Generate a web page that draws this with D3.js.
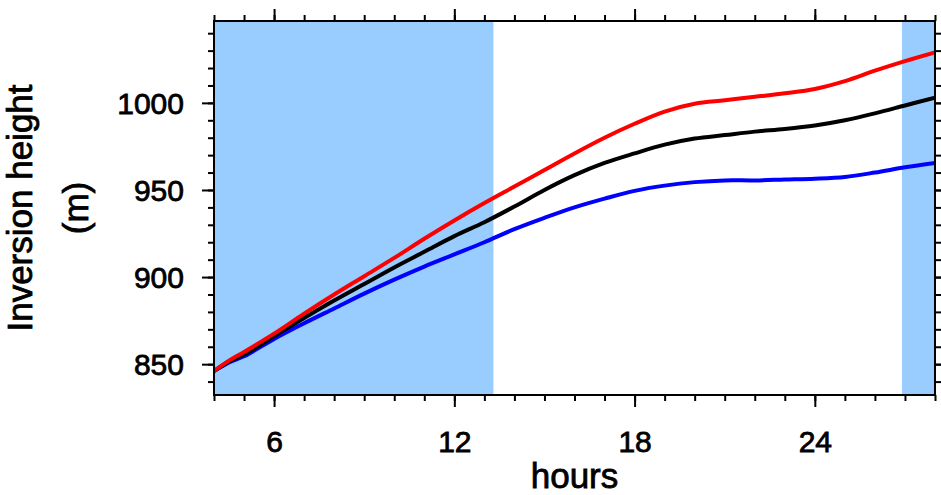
<!DOCTYPE html>
<html lang="en">
<head>
    <meta charset="UTF-8">
    <title>Inversion height</title>
    <script src="https://d3js.org/d3.v7.min.js"></script>
    <style>
        body {
            margin: 0;
            overflow: hidden;
            background: #fff;
        }
        svg {
            position: absolute;
            top: 0;
            left: 0;
        }
        text {
            font-family: "Liberation Sans", Helvetica, Arial, sans-serif;
            fill: #000;
            stroke: #000;
            stroke-width: 0.8px;
        }
    </style>
</head>
<body>
    <script>
        // Data
        const hours = [4, 4.5, 5, 6, 7, 8, 9, 10, 11, 12, 13, 14, 15, 16, 17, 18, 19, 20, 21, 22, 23, 24, 25, 26, 27, 28];
        const redValues = [846, 852, 857, 867.5, 879, 890, 900.5, 911, 922, 932.5, 942.5, 952, 961.5, 971, 980, 988, 995, 999.5, 1001.5, 1003.5, 1005.5, 1008, 1012.5, 1018.5, 1024, 1029];
        const blackValues = [846, 851.5, 855.5, 866, 876.5, 886.5, 896, 905.5, 914.5, 923.5, 931.5, 940.5, 950, 958.5, 965.5, 971, 976, 979.5, 981.5, 983.5, 985, 987, 990, 994, 998.5, 1003];
        const blueValues = [846, 851, 854.5, 864.5, 873.5, 882, 890.5, 898.5, 906, 913, 920, 927.5, 934, 940, 945, 949.5, 952.5, 954.5, 955.5, 955.5, 956, 956.5, 957.5, 960, 963, 965.5];
        const shadeSpans = [[4, 13.3], [26.9, 28]];
        const xMajorTicks = [6, 12, 18, 24];
        const xMinorTicks = d3.range(4, 29, 1);
        const yMajorTicks = [850, 900, 950, 1000];
        const yMinorTicks = d3.range(840, 1047, 10);
        const xDomain = [4, 28];
        const yDomain = [832.3, 1047];

        const width = 941;
        const height = 495;
        const margin = { top: 21, right: 6, bottom: 100, left: 214 };
        const plotW = width - margin.left - margin.right;
        const plotH = height - margin.top - margin.bottom;

        const svg = d3.select("body").append("svg")
            .attr("width", width)
            .attr("height", height);

        const g = svg.append("g")
            .attr("transform", `translate(${margin.left},${margin.top})`);

        const x = d3.scaleLinear().domain(xDomain).range([0, plotW]);
        const y = d3.scaleLinear().domain(yDomain).range([plotH, 0]);

        g.append("clipPath").attr("id", "clip")
            .append("rect").attr("width", plotW).attr("height", plotH);

        // Shaded periods
        g.selectAll("rect.shade")
            .data(shadeSpans)
            .enter().append("rect")
            .attr("class", "shade")
            .attr("x", d => x(d[0]))
            .attr("y", 0)
            .attr("width", d => x(d[1]) - x(d[0]))
            .attr("height", plotH)
            .attr("fill", "#99ccff");

        // Lines
        const line = d3.line()
            .x(d => x(d[0]))
            .y(d => y(d[1]))
            .curve(d3.curveCatmullRom.alpha(0.5));

        const series = [
            { values: blueValues, color: "#0000ff" },
            { values: blackValues, color: "#000000" },
            { values: redValues, color: "#ff0000" }
        ];

        g.append("g").attr("clip-path", "url(#clip)")
            .selectAll("path")
            .data(series)
            .enter().append("path")
            .attr("fill", "none")
            .attr("stroke", d => d.color)
            .attr("stroke-width", 4)
            .attr("stroke-linejoin", "round")
            .attr("d", d => line(hours.map((h, i) => [h, d.values[i]])));

        // Axes with ticks on all four sides, pointing out
        function addAxis(axis, transform, withLabels) {
            const a = g.append("g").attr("transform", transform).call(axis);
            a.select(".domain").remove();
            a.selectAll("line").attr("stroke", "#000").attr("stroke-width", 2);
            if (!withLabels) a.selectAll("text").remove();
            return a;
        }

        addAxis(d3.axisBottom(x).tickValues(xMinorTicks).tickSize(6).tickFormat(""), `translate(0,${plotH})`);
        addAxis(d3.axisTop(x).tickValues(xMinorTicks).tickSize(6).tickFormat(""), "translate(0,0)");
        addAxis(d3.axisLeft(y).tickValues(yMinorTicks).tickSize(6).tickFormat(""), "translate(0,0)");
        addAxis(d3.axisRight(y).tickValues(yMinorTicks).tickSize(6).tickFormat(""), `translate(${plotW},0)`);

        const xAx = addAxis(d3.axisBottom(x).tickValues(xMajorTicks).tickSize(12).tickPadding(24).tickFormat(d3.format("d")), `translate(0,${plotH})`, true);
        xAx.selectAll("text").attr("font-size", 30).attr("font-family", null).attr("fill", null);
        addAxis(d3.axisTop(x).tickValues(xMajorTicks).tickSize(12).tickFormat(""), "translate(0,0)");
        const yAx = addAxis(d3.axisLeft(y).tickValues(yMajorTicks).tickSize(12).tickPadding(18).tickFormat(d3.format("d")), "translate(0,0)", true);
        yAx.selectAll("text").attr("font-size", 30).attr("font-family", null).attr("fill", null).attr("dy", "0.355em");
        addAxis(d3.axisRight(y).tickValues(yMajorTicks).tickSize(12).tickFormat(""), `translate(${plotW},0)`);

        // Frame
        g.append("rect")
            .attr("width", plotW)
            .attr("height", plotH)
            .attr("fill", "none")
            .attr("stroke", "#000")
            .attr("stroke-width", 2);

        // Axis titles
        svg.append("text")
            .attr("x", margin.left + plotW / 2)
            .attr("y", 488)
            .attr("text-anchor", "middle")
            .attr("font-size", 35)
            .text("hours");

        const midY = margin.top + plotH / 2;
        svg.append("text")
            .attr("transform", `translate(32,${midY}) rotate(-90)`)
            .attr("text-anchor", "middle")
            .attr("font-size", 35)
            .text("Inversion height");
        svg.append("text")
            .attr("transform", `translate(88,${midY}) rotate(-90)`)
            .attr("text-anchor", "middle")
            .attr("font-size", 35)
            .text("(m)");
    </script>
</body>
</html>
